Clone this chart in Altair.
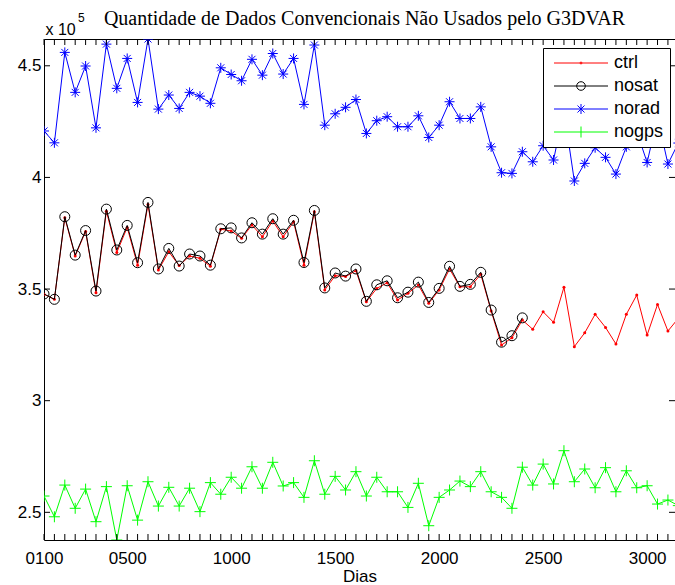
import altair as alt
import pandas as pd

# ---------------- data (values in units of 1e5) ----------------
dias = list(range(100, 3151, 50))
ctrl = [3.477, 3.454, 3.819, 3.648, 3.758, 3.483, 3.849, 3.664, 3.776, 3.607,
        3.879, 3.585, 3.667, 3.605, 3.648, 3.638, 3.602, 3.768, 3.760, 3.727,
        3.787, 3.734, 3.805, 3.734, 3.801, 3.607, 3.846, 3.496, 3.560, 3.556,
        3.582, 3.443, 3.503, 3.528, 3.451, 3.481, 3.518, 3.436, 3.496, 3.590,
        3.510, 3.510, 3.566, 3.402, 3.249, 3.282, 3.361, 3.320, 3.398, 3.351,
        3.508, 3.242, 3.304, 3.387, 3.328, 3.254, 3.387, 3.473, 3.294, 3.431,
        3.312, 3.369]
nosat = [3.478, 3.454, 3.824, 3.652, 3.762, 3.491, 3.858, 3.675, 3.785, 3.618,
         3.888, 3.590, 3.682, 3.603, 3.657, 3.648, 3.607, 3.770, 3.774, 3.729,
         3.797, 3.746, 3.815, 3.746, 3.808, 3.619, 3.852, 3.505, 3.572, 3.558,
         3.590, 3.445, 3.519, 3.537, 3.461, 3.486, 3.531, 3.440, 3.503, 3.602,
         3.512, 3.521, 3.575, 3.406, 3.262, 3.291, 3.371]
norad = [4.208, 4.155, 4.560, 4.381, 4.499, 4.222, 4.597, 4.399, 4.533, 4.336,
         4.620, 4.306, 4.369, 4.309, 4.381, 4.364, 4.332, 4.491, 4.461, 4.433,
         4.529, 4.458, 4.555, 4.463, 4.533, 4.327, 4.593, 4.234, 4.285, 4.314,
         4.349, 4.197, 4.254, 4.272, 4.227, 4.227, 4.276, 4.179, 4.234, 4.339,
         4.264, 4.264, 4.316, 4.137, 4.021, 4.018, 4.115, 4.070, 4.142, 4.078,
         4.300, 3.984, 4.063, 4.133, 4.090, 4.015, 4.137, 4.206, 4.067, 4.270,
         4.060, 4.154]
nogps = [2.573, 2.480, 2.622, 2.518, 2.604, 2.458, 2.615, 2.376, 2.619, 2.465,
         2.637, 2.528, 2.612, 2.528, 2.608, 2.503, 2.633, 2.581, 2.657, 2.608,
         2.704, 2.608, 2.724, 2.618, 2.633, 2.567, 2.731, 2.581, 2.661, 2.600,
         2.682, 2.573, 2.657, 2.592, 2.592, 2.522, 2.630, 2.440, 2.567, 2.600,
         2.640, 2.615, 2.682, 2.592, 2.567, 2.518, 2.702, 2.622, 2.716, 2.627,
         2.776, 2.637, 2.694, 2.610, 2.700, 2.592, 2.686, 2.610, 2.619, 2.537,
         2.555, 2.530]

series_names = ["ctrl", "nosat", "norad", "nogps"]
series_colors = ["#ff0000", "#000000", "#0000ff", "#00ff00"]
x_label_values = [100, 500, 1000, 1500, 2000, 2500, 3000]
x_minor_ticks = list(range(100, 3101, 50))
y_tick_values = [2.5, 3, 3.5, 4, 4.5]
exponent_text = ["5"]

# ---------------- layout ----------------
W, H = 631, 501
FONT = "Liberation Sans"

xscale = alt.Scale(domain=[100, 3134], nice=False, zero=False)
yscale = alt.Scale(domain=[2.376, 4.62], nice=False, zero=False)

series_values = {"ctrl": ctrl, "nosat": nosat, "norad": norad, "nogps": nogps}
frames = []
for name in series_names:
    vals = series_values[name]
    frames.append(pd.DataFrame({"dia": dias[:len(vals)], "v": vals, "serie": name}))
df = pd.concat(frames, ignore_index=True)

STAR = "M-1,0L1,0M0,-1L0,1M-0.7,-0.7L0.7,0.7M-0.7,0.7L0.7,-0.7"
PLUS = "M-1,0L1,0M0,-1L0,1"

x_main = alt.X("dia:Q", scale=xscale, axis=alt.Axis(
    values=x_label_values, format="04d", title="Dias",
    labelFont=FONT, labelFontSize=17, labelColor="black", labelPadding=10,
    labelFlush=False, labelOverlap=False,
    titleFont=FONT, titleFontSize=17, titleFontWeight="normal", titleColor="black",
    titlePadding=2, ticks=False, tickSize=0, grid=False,
    domain=True, domainColor="black", domainWidth=1))
y_main = alt.Y("v:Q", scale=yscale, axis=alt.Axis(
    values=y_tick_values, format="~g", title="x 10",
    titleAngle=0, titleX=1, titleY=-5, titleAlign="left", titleBaseline="alphabetic",
    titleFont=FONT, titleFontSize=16, titleFontWeight="normal", titleColor="black",
    labelFont=FONT, labelFontSize=17, labelColor="black", labelPadding=3,
    labelFlush=False, labelOverlap=False,
    ticks=False, tickSize=0, grid=False,
    domain=True, domainColor="black", domainWidth=1))
x_plain = alt.X("dia:Q", scale=xscale, axis=None)
y_plain = alt.Y("v:Q", scale=yscale, axis=None)


def sub(name):
    return alt.Chart(df).transform_filter(alt.datum.serie == name)


layers = []
# ctrl
layers.append(sub("ctrl").mark_line(color="#ff0000", strokeWidth=1, clip=True)
              .encode(x=x_main, y=y_main))
layers.append(sub("ctrl").mark_point(shape="circle", size=9, filled=True, color="#ff0000",
                                     opacity=1, clip=True)
              .encode(x=x_plain, y=y_plain))
# nosat
layers.append(sub("nosat").mark_line(color="#000000", strokeWidth=1, clip=True)
              .encode(x=x_plain, y=y_plain))
layers.append(sub("nosat").mark_point(shape="circle", size=100, filled=False, color="#000000",
                                      strokeWidth=1, opacity=1, clip=True)
              .encode(x=x_plain, y=y_plain))
# norad
layers.append(sub("norad").mark_line(color="#0000ff", strokeWidth=1, clip=True)
              .encode(x=x_plain, y=y_plain))
layers.append(sub("norad").mark_point(shape=STAR, size=100, filled=False, color="#0000ff",
                                      strokeWidth=1, opacity=1, clip=True)
              .encode(x=x_plain, y=y_plain))
# nogps
layers.append(sub("nogps").mark_line(color="#00ff00", strokeWidth=1, clip=True)
              .encode(x=x_plain, y=y_plain))
layers.append(sub("nogps").mark_point(shape=PLUS, size=121, filled=False, color="#00ff00",
                                      strokeWidth=1, opacity=1, clip=True)
              .encode(x=x_plain, y=y_plain))

# inward ticks (MATLAB style)
xt = pd.DataFrame({"dia": x_minor_ticks})
yt = pd.DataFrame({"v": y_tick_values})
layers.append(alt.Chart(xt).mark_rule(color="black", strokeWidth=1).encode(
    x=x_plain, y=alt.value(H), y2=alt.value(H - 6)))
layers.append(alt.Chart(xt).mark_rule(color="black", strokeWidth=1).encode(
    x=alt.X("dia:Q", scale=xscale, axis=alt.Axis(
        orient="top", labels=False, ticks=False, domain=True, domainColor="black",
        domainWidth=1, grid=False, title=None)),
    y=alt.value(0), y2=alt.value(6)))
layers.append(alt.Chart(yt).mark_rule(color="black", strokeWidth=1).encode(
    y=y_plain, x=alt.value(0), x2=alt.value(6)))
layers.append(alt.Chart(yt).mark_rule(color="black", strokeWidth=1).encode(
    y=y_plain, x=alt.value(W - 6), x2=alt.value(W)))

# exponent of the "x 10^5" axis multiplier
layers.append(alt.Chart(pd.DataFrame({"t": exponent_text})).mark_text(
    align="left", baseline="alphabetic", font=FONT, fontSize=12, color="black",
    clip=False).encode(text="t:N", x=alt.value(34), y=alt.value(-17)))

# legend (line + marker symbols)
LINE = "M-5.4,0L5.4,0"
legend_paths = [
    LINE + "M-0.2,0A0.2,0.2,0,1,0,0.2,0A0.2,0.2,0,1,0,-0.2,0",
    LINE + "M-0.86,0A0.86,0.86,0,1,0,0.86,0A0.86,0.86,0,1,0,-0.86,0",
    LINE + "M0,-1L0,1M-0.7,-0.7L0.7,0.7M-0.7,0.7L0.7,-0.7",
    LINE + "M0,-1.1L0,1.1",
]
leg = dict(title=None, orient="none", legendX=499, legendY=9,
           strokeColor="black", fillColor="white", padding=6,
           symbolSize=100, symbolStrokeWidth=1, symbolOffset=23,
           labelOffset=24, labelFont=FONT, labelFontSize=18, labelColor="black",
           rowPadding=5)
layers.append(alt.Chart(df).transform_filter("false").mark_point(
    filled=False, strokeWidth=1, opacity=1).encode(
    x=x_plain, y=y_plain,
    color=alt.Color("serie:N", scale=alt.Scale(domain=series_names, range=series_colors),
                    legend=alt.Legend(**leg)),
    shape=alt.Shape("serie:N", scale=alt.Scale(domain=series_names, range=legend_paths),
                    legend=alt.Legend(**leg)),
))

chart = alt.layer(*layers).resolve_axis(x="independent", y="independent").properties(
    width=W, height=H,
    title=alt.TitleParams(
        text="Quantidade de Dados Convencionais Não Usados pelo G3DVAR",
        font="Liberation Serif", fontSize=20, fontWeight="normal", color="black",
        anchor="middle", baseline="alphabetic", offset=-33, dx=5),
    autosize=alt.AutoSizeParams(type="none"),
    padding={"left": 44, "top": 39, "right": 0, "bottom": 45},
    background="white",
).configure_view(stroke=None)

chart.save("out.html", embed_options={"renderer": "svg", "actions": False})
